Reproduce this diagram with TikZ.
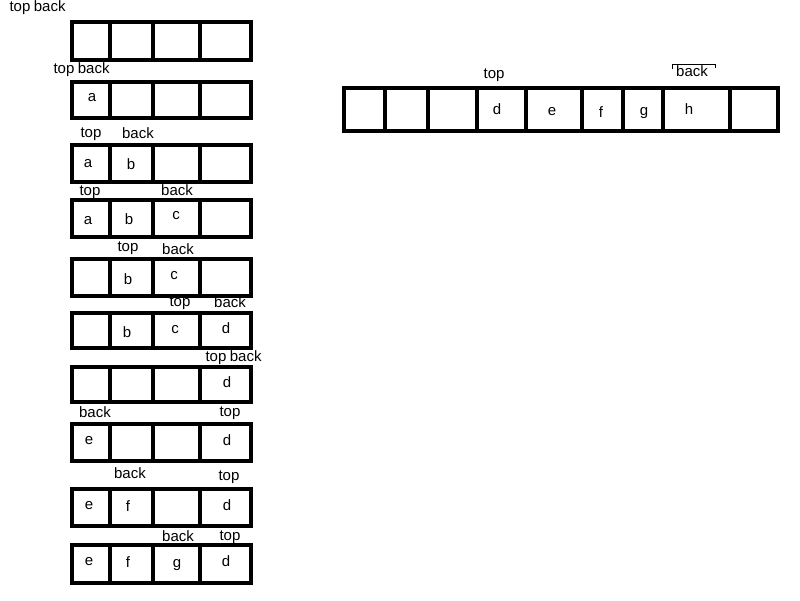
\documentclass[tikz,border=0pt]{standalone}
\usepackage{fontspec}
\setmainfont{Liberation Sans}
\usetikzlibrary{positioning}
\begin{document}
\begin{tikzpicture}[x=1pt,y=-1pt,
  box/.style={line width=4.2pt},
  lbl/.style={font=\fontsize{15}{15}\selectfont,inner sep=0pt}]
\useasboundingbox (0,0) rectangle (800,600);
% left column: the queue after each step
\foreach \t/\b in {22/60,82/118,145/182,200/237,259/296,313/348,367/402,424/461,489/526,545/583}{
  \draw[box] (72,\t) rectangle (251,\b);
  \foreach \x in {110,153,200}
    \draw[box] (\x,\t)--(\x,\b);
}
\node[lbl] (top1) at (20,8) {top};
\node[lbl,base right=3pt of top1] (back1) {back};
\node[lbl] (top2) at (64,70) {top};
\node[lbl,base right=3pt of top2] (back2) {back};
\node[lbl] (a2) at (92,98) {a};
\node[lbl] (top3) at (91,134) {top};
\node[lbl] (back3) at (138,133) {back};
\node[lbl] (a3) at (88,164) {a};
\node[lbl] (b3) at (131,164) {b};
\node[lbl] (top4) at (90,192) {top};
\node[lbl] (back4) at (177,190) {back};
\node[lbl] (a4) at (88,221) {a};
\node[lbl] (b4) at (129,219) {b};
\node[lbl] (c4) at (176,216) {c};
\node[lbl] (top5) at (128,248) {top};
\node[lbl] (back5) at (178,249) {back};
\node[lbl] (b5) at (128,279) {b};
\node[lbl] (c5) at (174,276) {c};
\node[lbl] (top6) at (180,303) {top};
\node[lbl] (back6) at (230,302) {back};
\node[lbl] (b6) at (127,332) {b};
\node[lbl] (c6) at (175,330) {c};
\node[lbl] (d6) at (226,328) {d};
\node[lbl] (top7) at (216,358) {top};
\node[lbl,base right=3pt of top7] (back7) {back};
\node[lbl] (d7) at (227,382) {d};
\node[lbl] (back8) at (95,412) {back};
\node[lbl] (top8) at (230,413) {top};
\node[lbl] (e8) at (89,441) {e};
\node[lbl] (d8) at (227,440) {d};
\node[lbl] (back9) at (130,473) {back};
\node[lbl] (top9) at (229,477) {top};
\node[lbl] (e9) at (89,506) {e};
\node[lbl] (f9) at (128,506) {f};
\node[lbl] (d9) at (227,505) {d};
\node[lbl] (back10) at (178,536) {back};
\node[lbl] (top10) at (230,537) {top};
\node[lbl] (e10) at (89,562) {e};
\node[lbl] (f10) at (128,562) {f};
\node[lbl] (g10) at (177,565) {g};
\node[lbl] (d10) at (226,561) {d};
% right: the longer queue
\draw[box] (344,88) rectangle (778,131);
\foreach \x in {385,428,477,526,582,623,663,730}
  \draw[box] (\x,88)--(\x,131);
\node[lbl] (topR) at (494,75) {top};
\node[lbl] (backR) at (692,71) {back};
\draw[line width=0.8pt] (672,69)--(672,64)--(715,64)--(715,68);
\node[lbl] (dR) at (497,109) {d};
\node[lbl] (eR) at (552,112) {e};
\node[lbl] (fR) at (601,112) {f};
\node[lbl] (gR) at (644,113) {g};
\node[lbl] (hR) at (689,109) {h};
\end{tikzpicture}
\end{document}
